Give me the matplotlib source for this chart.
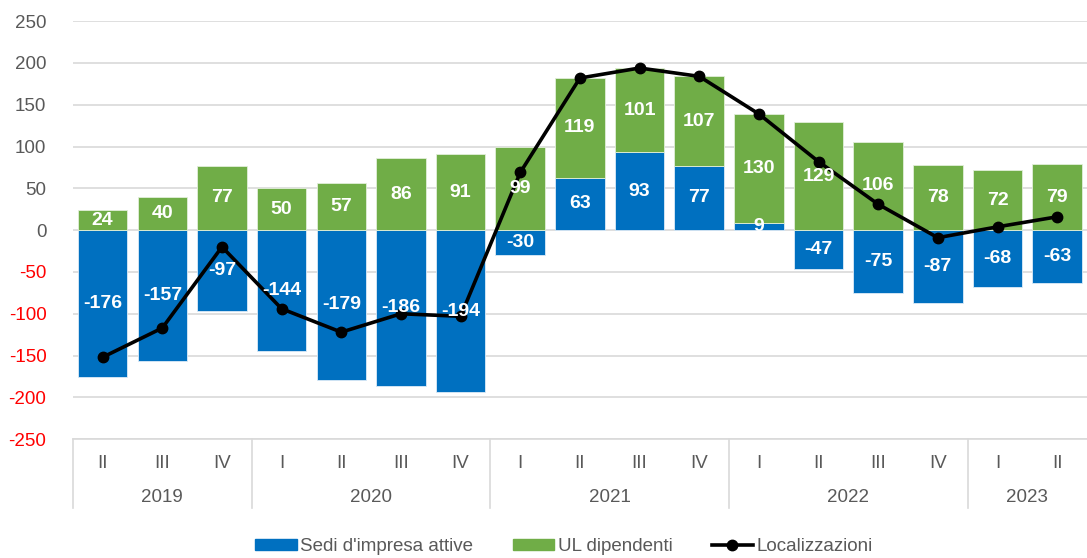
import matplotlib.pyplot as plt
import matplotlib.transforms as mtransforms
from matplotlib.lines import Line2D
from matplotlib.patches import Patch
import numpy as np

plt.rcParams['font.family'] = ['Liberation Sans', 'DejaVu Sans']
plt.rcParams['axes.unicode_minus'] = False

# quarters and years (two-level category axis)
quarters = ["II", "III", "IV",
            "I", "II", "III", "IV",
            "I", "II", "III", "IV",
            "I", "II", "III", "IV",
            "I", "II"]
years = ["2019", "2020", "2021", "2022", "2023"]
quarters_per_year = [3, 4, 4, 4, 2]

sedi = [-176, -157, -97, -144, -179, -186, -194, -30, 63, 93, 77, 9, -47, -75, -87, -68, -63]
ul_dip = [24, 40, 77, 50, 57, 86, 91, 99, 119, 101, 107, 130, 129, 106, 78, 72, 79]
localizzazioni = [-152, -117, -20, -94, -122, -100, -103, 69, 182, 194, 184, 139, 82, 31, -9, 4, 16]

blue = "#0070C0"
green = "#70AD47"
grid_col = "#D9D9D9"
txt_col = "#595959"

x = np.arange(len(quarters))
sedi = np.array(sedi)
ul_dip = np.array(ul_dip)

fig = plt.figure(figsize=(10.87, 5.58), dpi=100)
ax = fig.add_axes([0.067, 0.213, 0.933, 0.749])

# green stacks on blue only when blue is positive
green_bottom = np.where(sedi > 0, sedi, 0)
width = 0.83
ax.bar(x, sedi, width, color=blue, edgecolor="#DDEBF7", linewidth=0.6, zorder=2)
ax.bar(x, ul_dip, width, bottom=green_bottom, color=green, edgecolor="#E2EFDA", linewidth=0.6, zorder=2)

ax.plot(x, localizzazioni, color="black", lw=2.6, marker="o", ms=7.5, zorder=4)

# data labels centred in segments
for i in range(len(x)):
    ax.text(x[i], sedi[i] / 2, f"{sedi[i]}", ha="center", va="center",
            color="white", fontsize=14, fontweight="bold", zorder=5)
    ax.text(x[i], green_bottom[i] + ul_dip[i] / 2, f"{ul_dip[i]}", ha="center", va="center",
            color="white", fontsize=14, fontweight="bold", zorder=5)

ax.set_xlim(-0.5, len(x) - 0.5)
ax.set_ylim(-250, 250)
ax.set_yticks(np.arange(-250, 251, 50))
ax.yaxis.grid(True, color=grid_col, lw=1.2, zorder=0)
ax.set_axisbelow(True)
for s in ["top", "right", "left"]:
    ax.spines[s].set_visible(False)
ax.spines["bottom"].set_color(grid_col)
ax.spines["bottom"].set_linewidth(1.2)
ax.tick_params(axis="y", length=0, labelsize=13.5, pad=19)
ax.tick_params(axis="x", length=0, labelbottom=False)
for lab, v in zip(ax.get_yticklabels(), ax.get_yticks()):
    lab.set_color("#FF0000" if v < 0 else txt_col)

# two-level category axis
trans = mtransforms.blended_transform_factory(ax.transData, ax.transAxes)
for i, q in enumerate(quarters):
    ax.text(x[i], -0.058, q, transform=trans, ha="center", va="center",
            fontsize=13.5, color=txt_col, clip_on=False)
edges = np.concatenate([[0], np.cumsum(quarters_per_year)]) - 0.5
for k, yr in enumerate(years):
    ax.text((edges[k] + edges[k + 1]) / 2, -0.14, yr, transform=trans, ha="center",
            va="center", fontsize=13.5, color=txt_col, clip_on=False)
for e in edges[:-1]:
    ax.add_line(Line2D([e, e], [0, -0.165], transform=trans, color=grid_col,
                       lw=1.2, clip_on=False))

handles = [Patch(color=blue, label="Sedi d'impresa attive"),
           Patch(color=green, label="UL dipendenti"),
           Line2D([0], [0], color="black", lw=2.6, marker="o", ms=7.5, label="Localizzazioni")]
fig.legend(handles=handles, loc="center", bbox_to_anchor=(0.519, 0.02), ncol=3,
           frameon=False, fontsize=13.5, handlelength=2.2, handleheight=0.55,
           columnspacing=2.1, handletextpad=0.2, labelcolor=txt_col)

fig.savefig("out.png", dpi=100)
